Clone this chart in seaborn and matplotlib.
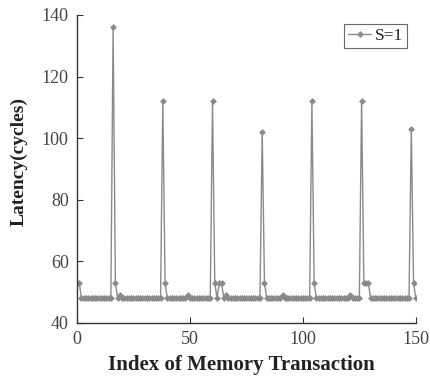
import numpy as np
import pandas as pd
import matplotlib
matplotlib.use("Agg")
import matplotlib.pyplot as plt
import seaborn as sns

# Data
base = 48
spike_idx = [16, 38, 60, 82, 104, 126, 148]
spike_val = [136, 112, 112, 102, 112, 112, 103]
mid_idx = [0, 1, 17, 39, 61, 63, 64, 83, 105, 127, 128, 129, 149]
mid_val = [53] * len(mid_idx)
bump_idx = [19, 49, 66, 91, 121]
bump_val = [49, 49, 49, 49, 49]

index = list(range(151))
latency = [base] * 151
for i, v in zip(mid_idx, mid_val):
    latency[i] = v
for i, v in zip(bump_idx, bump_val):
    latency[i] = v
for i, v in zip(spike_idx, spike_val):
    latency[i] = v

df = pd.DataFrame({"Index": index, "Latency": latency, "series": "S=1"})

sns.set_theme(style="ticks")
plt.rcParams["font.family"] = ["Liberation Serif", "DejaVu Serif"]

fig = plt.figure(figsize=(4.30, 3.83), dpi=100)
ax = fig.add_axes([0.179, 0.157, 0.788, 0.804])

sns.lineplot(data=df, x="Index", y="Latency", hue="series", palette=["#8a8a8a"],
             marker="D", markersize=3.5, markeredgewidth=0, linewidth=1.0, ax=ax)

ax.set_xlim(0, 150)
ax.set_ylim(40, 140)
ax.set_xticks([0, 50, 100, 150])
ax.set_yticks([40, 60, 80, 100, 120, 140])
ax.tick_params(direction="in", length=4, width=0.8, labelsize=13, colors="#333333",
               labelcolor="#444444")
ax.tick_params(axis="x", pad=6)
ax.tick_params(axis="y", pad=6)
for s in ["top", "right"]:
    ax.spines[s].set_visible(False)
for s in ["left", "bottom"]:
    ax.spines[s].set_color("#333333")
    ax.spines[s].set_linewidth(1.0)

ax.set_xlabel("Index of Memory Transaction", fontsize=15, fontweight="bold",
              color="#222222")
ax.set_ylabel("Latency(cycles)", fontsize=14, fontweight="bold", color="#222222")
ax.xaxis.set_label_coords(0.485, -0.104)
ax.yaxis.set_label_coords(-0.145, 0.523)

leg = ax.legend(loc="upper right", fontsize=12.5, frameon=True, fancybox=False,
                handlelength=1.3, handletextpad=0.2, borderpad=0.25,
                bbox_to_anchor=(1.0, 1.0))
leg.get_frame().set_edgecolor("#444444")
leg.get_frame().set_linewidth(0.8)
for t in leg.get_texts():
    t.set_color("#222222")

fig.savefig("out.png", dpi=100)
